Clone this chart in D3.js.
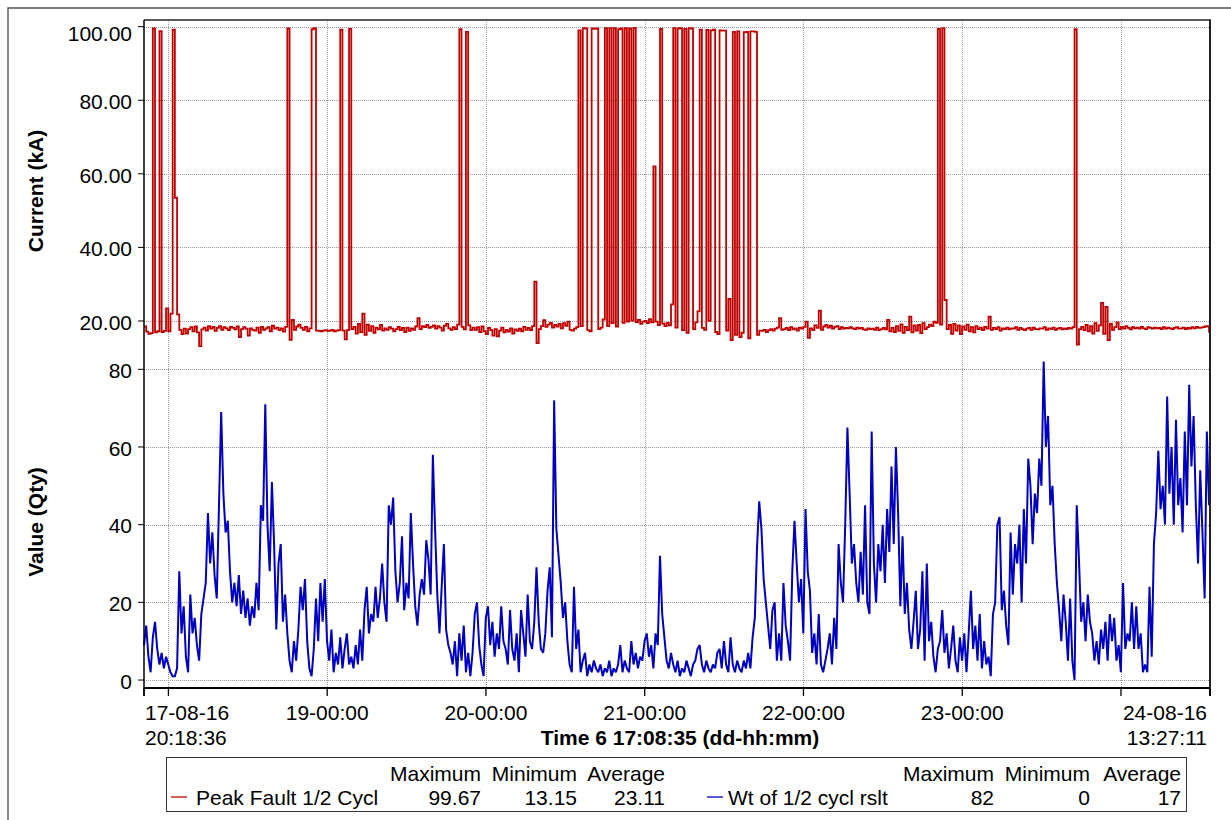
<!DOCTYPE html>
<html>
<head>
<meta charset="utf-8">
<script src="https://cdn.jsdelivr.net/npm/d3@7"></script>
<style>
  html, body { margin: 0; padding: 0; background: #fff; }
  svg { display: block; }
  text { font-family: "Liberation Sans", Arial, sans-serif; fill: #000; }
</style>
</head>
<body>
<svg id="chart" width="1231" height="820"></svg>
<script>
// Logged trend: recording window and sample interval
const startTime = "2016-08-17 20:18:36";
const endTime = "2016-08-24 13:27:11";
const stepMinutes = 20;

// Peak Fault 1/2 Cycl (kA), one value per interval
const peakFault = [
  18.5, 17.1, 16.5, 16.7, 99.5, 16.9, 17.2, 98.8, 17.0, 17.3,
  23.4, 17.2, 22.0, 99.2, 53.5, 21.8, 17.6, 16.4, 17.9, 16.6,
  17.8, 18.3, 17.2, 18.5, 16.9, 13.15, 17.7, 18.2, 17.4, 18.6,
  17.9, 18.4, 17.3, 18.1, 18.6, 17.6, 18.3, 18.0, 17.5, 18.4,
  18.1, 17.7, 18.5, 15.6, 17.8, 18.3, 17.9, 16.0, 18.0, 17.6,
  17.4, 18.2, 16.8, 18.4, 17.6, 18.0, 18.3, 17.2, 18.7, 17.9,
  18.2, 17.5, 18.0, 17.1, 18.4, 99.5, 14.9, 20.3, 17.6, 18.5,
  19.0, 18.1, 17.6, 18.4, 17.2, 18.0, 99.3, 99.6, 17.4, 17.3,
  17.2, 17.4, 17.5, 17.3, 17.4, 17.6, 17.2, 17.4, 17.5, 99.2,
  17.4, 15.0, 17.5, 99.4, 17.8, 18.4, 16.6, 19.2, 17.0, 22.0,
  16.2, 19.0, 17.3, 18.6, 16.8, 18.2, 17.7, 18.9, 17.4, 18.0,
  17.6, 18.3, 17.9, 17.2, 17.8, 18.4, 17.5, 18.1, 17.0, 18.2,
  17.3, 18.0, 17.6, 18.5, 20.8, 17.8, 18.6, 18.3, 18.9, 18.1,
  18.4, 18.8, 17.9, 18.6, 18.2, 17.4, 18.7, 19.2, 18.0, 17.6,
  18.3, 17.8, 19.0, 99.3, 18.4, 17.7, 98.6, 18.8, 17.5, 18.2,
  17.6, 18.3, 17.0, 18.5, 17.2, 16.4, 18.1, 17.5, 16.0, 17.8,
  15.8, 17.4, 18.2, 16.9, 17.6, 17.1, 18.0, 16.6, 17.7, 17.3,
  17.9, 17.2, 18.4, 17.6, 18.1, 17.5, 18.6, 30.7, 14.0, 17.8,
  18.6, 20.2, 18.4, 19.0, 19.5, 18.2, 18.9, 18.5, 19.2, 18.0,
  19.4, 18.7, 19.8, 17.6, 17.4, 17.9, 18.3, 99.0, 18.6, 99.6,
  99.5, 17.5, 17.2, 99.5, 99.4, 99.5, 17.8, 18.2, 20.4, 99.6,
  18.6, 99.6, 19.4, 99.6, 18.5, 99.3, 99.5, 19.5, 99.6, 19.8,
  99.5, 20.1, 99.67, 19.7, 20.3, 19.2, 19.8, 20.0, 19.4, 20.5,
  19.6, 62.0, 19.8, 18.9, 99.4, 19.3, 18.6, 19.5, 18.8, 24.5,
  99.6, 18.2, 99.5, 99.6, 17.5, 99.4, 16.8, 99.6, 99.5, 17.8,
  19.6, 22.6, 99.2, 18.1, 17.6, 99.1, 20.0, 99.0, 99.2, 17.0,
  16.4, 99.0, 98.9, 98.9, 17.4, 26.0, 14.8, 98.6, 16.2, 98.7,
  15.6, 16.8, 98.5, 98.6, 15.3, 98.7, 98.7, 98.6, 16.2, 17.4,
  17.3, 17.6, 17.0, 17.5, 17.8, 17.4, 17.9, 18.2, 20.8, 17.6,
  17.8, 18.1, 17.5, 18.3, 17.7, 18.0, 17.4, 18.2, 17.9, 18.4,
  19.8, 15.4, 18.0, 17.5, 18.8, 18.1, 22.8, 17.6, 18.5, 18.9,
  18.2, 18.7, 17.9, 18.4, 18.6, 17.8, 18.3, 17.9, 18.1, 18.0,
  18.3, 18.0, 17.8, 18.2, 17.9, 18.1, 17.7, 17.6, 18.0, 17.8,
  17.9, 17.6, 18.2, 17.5, 17.8, 18.1, 17.7, 20.3, 17.2, 18.1,
  17.0, 18.6, 17.3, 19.1, 16.8, 18.4, 17.5, 21.2, 16.9, 18.8,
  17.4, 18.9, 16.7, 19.4, 17.8, 18.3, 19.0, 18.6, 19.8, 19.5,
  99.4, 19.0, 99.6, 25.7, 17.8, 18.9, 16.5, 19.2, 17.4, 18.8,
  16.4, 18.5, 17.6, 19.0, 17.2, 18.3, 16.9, 18.6, 17.8, 18.2,
  17.5, 18.4, 17.9, 21.2, 17.6, 18.1, 17.8, 18.3, 17.4, 18.0,
  17.8, 18.2, 17.7, 18.0, 17.9, 18.3, 17.6, 18.1, 17.8, 17.5,
  17.9, 18.1, 17.6, 18.2, 17.8, 17.7, 18.0, 17.9, 18.3, 17.6,
  18.0, 17.8, 18.2, 17.6, 17.9, 18.1, 17.7, 18.0, 17.8, 18.1,
  17.9, 18.3, 99.3, 13.6, 17.8, 18.4, 17.5, 18.9, 17.2, 18.6,
  16.6, 19.4, 17.3, 18.8, 24.9, 16.5, 23.8, 14.8, 19.2, 17.6,
  18.3, 19.6, 17.8, 18.4, 17.9, 18.6, 18.1, 17.7, 18.3, 18.0,
  18.2, 17.9, 18.4, 18.0, 17.8, 18.3, 18.1, 17.9, 18.2, 18.0,
  18.1, 17.8, 18.3, 17.9, 18.2, 18.0, 17.8, 18.1, 18.3, 17.9,
  18.0, 18.2, 17.8, 18.1, 17.9, 18.3, 18.0, 18.4, 18.1, 18.2,
  18.3, 18.5, 18.6, 16.8
];

// Wt of 1/2 cycl rslt (Qty), one value per interval
const weightQty = [
  9, 14, 6, 2, 11, 15, 8, 4, 7, 3,
  6, 4, 2, 1, 1, 3, 28, 12, 19, 6,
  2, 22, 12, 16, 9, 5, 17, 21, 25, 43,
  30, 38, 27, 21, 45, 69, 48, 38, 41, 28,
  20, 25, 19, 27, 17, 23, 16, 21, 14, 19,
  16, 25, 18, 45, 41, 71, 40, 28, 51, 35,
  13, 30, 35, 15, 22, 12, 5, 2, 10, 5,
  13, 24, 18, 26, 10, 3, 1, 8, 21, 10,
  25, 15, 26, 10, 5, 13, 2, 7, 4, 11,
  3, 8, 12, 4, 6, 3, 9, 4, 13, 5,
  18, 24, 12, 17, 15, 24, 16, 21, 30, 20,
  15, 45, 40, 47, 28, 20, 25, 37, 18, 25,
  21, 43, 30, 19, 14, 22, 26, 22, 36, 31,
  22, 58, 39, 22, 12, 24, 35, 13, 9, 7,
  4, 10, 1, 12, 5, 14, 2, 7, 1, 7,
  17, 20, 9, 4, 1, 16, 19, 9, 15, 6,
  12, 8, 19, 10, 8, 4, 18, 8, 5, 12,
  2, 18, 12, 6, 22, 10, 8, 15, 29, 15,
  8, 7, 12, 23, 29, 11, 72, 39, 32, 25,
  16, 20, 10, 4, 2, 24, 8, 13, 2, 5,
  7, 1, 4, 2, 5, 3, 2, 4, 1, 3,
  2, 5, 1, 3, 2, 4, 9, 2, 5, 3,
  2, 10, 4, 7, 3, 6, 5, 10, 12, 6,
  9, 3, 12, 9, 32, 17, 11, 5, 3, 7,
  4, 2, 5, 1, 3, 2, 5, 3, 1, 4,
  5, 8, 9, 4, 2, 5, 3, 2, 4, 3,
  7, 8, 3, 10, 4, 2, 11, 4, 2, 5,
  3, 2, 5, 3, 7, 3, 11, 16, 34, 46,
  39, 26, 20, 14, 8, 18, 20, 5, 12, 5,
  25, 14, 10, 5, 28, 41, 30, 20, 26, 12,
  44, 28, 23, 7, 12, 4, 17, 4, 2, 5,
  8, 12, 4, 16, 8, 35, 25, 20, 40, 65,
  48, 30, 35, 25, 20, 33, 22, 45, 20, 17,
  64, 30, 20, 35, 28, 40, 25, 44, 33, 55,
  35, 60, 43, 19, 37, 17, 25, 13, 8, 15,
  23, 8, 13, 28, 5, 30, 10, 15, 6, 2,
  8, 10, 18, 7, 12, 3, 8, 14, 5, 2,
  11, 5, 12, 2, 12, 23, 8, 14, 5, 17,
  3, 10, 4, 6, 1, 17, 20, 40, 42, 18,
  23, 14, 9, 38, 22, 35, 30, 40, 20, 44,
  30, 57, 50, 35, 48, 43, 57, 50, 82, 60,
  68, 45, 50, 35, 25, 18, 10, 22, 15, 5,
  21, 5, 0, 45, 31, 15, 20, 10, 22, 15,
  12, 5, 10, 4, 13, 8, 15, 5, 17, 10,
  16, 5, 9, 2, 25, 8, 12, 10, 20, 8,
  19, 8, 12, 2, 4, 2, 24, 6, 35, 43,
  59, 44, 50, 40, 73, 48, 60, 40, 67, 45,
  52, 38, 64, 45, 76, 55, 68, 45, 30, 54,
  38, 21, 64, 45
];

// Axis ticks and labels
const currentTicks = [20, 40, 60, 80, 100];
const qtyTicks = [0, 20, 40, 60, 80];
const labeledDays = ["2016-08-19 00:00:00", "2016-08-20 00:00:00", "2016-08-21 00:00:00",
                     "2016-08-22 00:00:00", "2016-08-23 00:00:00"];
const startLabel = ["17-08-16", "20:18:36"];
const endLabel = ["24-08-16", "13:27:11"];
const timeTitle = "Time 6 17:08:35 (dd-hh:mm)";
const currentTitle = "Current (kA)";
const qtyTitle = "Value (Qty)";

// Legend contents
const seriesNames = ["Peak Fault 1/2 Cycl", "Wt of 1/2 cycl rslt"];
const statHeaders = ["Maximum", "Minimum", "Average"];
const peakFaultStats = ["99.67", "13.15", "23.11"];
const weightQtyStats = ["82", "0", "17"];

// ---- drawing ----
const RED = "#c00000", BLUE = "#0000c0", GRID = "#9a9a9a";
const svg = d3.select("#chart");
const parse = d3.timeParse("%Y-%m-%d %H:%M:%S");
const t0 = parse(startTime), t1 = parse(endTime);

const plot = { left: 144, right: 1210, top: 20, bottom: 688 };

const x = d3.scaleTime().domain([t0, t1]).range([plot.left, plot.right]);
const yCur = d3.scaleLinear().domain([12, 102]).range([350.4, 19.3]);
const yQty = d3.scaleLinear().domain([-2, 85]).range([687.8, 349.9]);

const times = peakFault.map((_, i) => d3.timeMinute.offset(t0, i * stepMinutes));
const dayTicks = d3.timeDay.range(d3.timeDay.ceil(t0), t1);

// outer frame
svg.append("path")
  .attr("d", "M8,820V8H1231")
  .attr("fill", "none").attr("stroke", "#555").attr("stroke-width", 1.4);

// grid
const grid = svg.append("g").attr("stroke", GRID).attr("stroke-width", 1)
  .attr("stroke-dasharray", "1,1").attr("shape-rendering", "crispEdges");
grid.selectAll(".vg").data(dayTicks).join("line")
  .attr("x1", d => Math.round(x(d)) + 0.5).attr("x2", d => Math.round(x(d)) + 0.5)
  .attr("y1", plot.top).attr("y2", plot.bottom);
grid.selectAll(".hc").data(currentTicks).join("line")
  .attr("x1", plot.left).attr("x2", plot.right)
  .attr("y1", d => Math.round(yCur(d)) + 0.5).attr("y2", d => Math.round(yCur(d)) + 0.5);
grid.selectAll(".hq").data(qtyTicks).join("line")
  .attr("x1", plot.left).attr("x2", plot.right)
  .attr("y1", d => Math.round(yQty(d)) + 0.5).attr("y2", d => Math.round(yQty(d)) + 0.5);

// series lines: the current trace holds each sample, the quantity trace joins them
const curLine = d3.line()
  .x((d, i) => x(times[i])).y(d => yCur(d)).curve(d3.curveStepAfter);
const qtyLine = d3.line()
  .x((d, i) => x(times[i])).y(d => yQty(d));

svg.append("path").datum(peakFault).attr("d", curLine)
  .attr("fill", "none").attr("stroke", RED).attr("stroke-width", 1.8)
  .attr("stroke-linejoin", "miter");
svg.append("path").datum(weightQty).attr("d", qtyLine)
  .attr("fill", "none").attr("stroke", BLUE).attr("stroke-width", 2)
  .attr("stroke-linejoin", "miter").attr("stroke-miterlimit", 2);

// plot border and axes
svg.append("line").attr("x1", plot.left).attr("x2", plot.right + 1)
  .attr("y1", plot.top).attr("y2", plot.top).attr("stroke", "#222").attr("stroke-width", 1.6);
svg.append("line").attr("x1", plot.right).attr("x2", plot.right)
  .attr("y1", plot.top).attr("y2", plot.bottom + 8).attr("stroke", "#222").attr("stroke-width", 2);
svg.append("line").attr("x1", plot.left).attr("x2", plot.left)
  .attr("y1", plot.top).attr("y2", plot.bottom + 8).attr("stroke", "#000").attr("stroke-width", 1.5);
svg.append("line").attr("x1", plot.left).attr("x2", plot.right)
  .attr("y1", plot.bottom).attr("y2", plot.bottom).attr("stroke", "#000").attr("stroke-width", 1.8);

// y ticks and labels
const fmt2 = d3.format(".2f");
const yAxisG = svg.append("g");
yAxisG.selectAll(".tc").data(currentTicks).join("line")
  .attr("x1", plot.left - 6).attr("x2", plot.left)
  .attr("y1", d => yCur(d)).attr("y2", d => yCur(d)).attr("stroke", "#000");
yAxisG.selectAll(".lc").data(currentTicks).join("text")
  .attr("x", 132).attr("y", d => Math.max(yCur(d), 32) + 1.5)
  .attr("dy", "0.36em").attr("text-anchor", "end").attr("font-size", 21)
  .text(d => fmt2(d));
yAxisG.selectAll(".tq").data(qtyTicks).join("line")
  .attr("x1", plot.left - 6).attr("x2", plot.left)
  .attr("y1", d => yQty(d)).attr("y2", d => yQty(d)).attr("stroke", "#000");
yAxisG.selectAll(".lq").data(qtyTicks).join("text")
  .attr("x", 132).attr("y", d => yQty(d) + 1)
  .attr("dy", "0.36em").attr("text-anchor", "end").attr("font-size", 21)
  .text(d => d);

// axis titles
svg.append("text").attr("transform", "translate(43,191) rotate(-90)")
  .attr("text-anchor", "middle").attr("font-size", 21).attr("font-weight", "bold")
  .text(currentTitle);
svg.append("text").attr("transform", "translate(43,522) rotate(-90)")
  .attr("text-anchor", "middle").attr("font-size", 21).attr("font-weight", "bold")
  .text(qtyTitle);

// x ticks
const xTickDates = [t0, ...dayTicks, t1];
svg.append("g").selectAll("line").data(xTickDates).join("line")
  .attr("x1", d => x(d)).attr("x2", d => x(d))
  .attr("y1", plot.bottom).attr("y2", plot.bottom + 8)
  .attr("stroke", "#000").attr("stroke-width", 1.3);

const dayFmt = d3.timeFormat("%d-%H:%M");
svg.append("g").selectAll("text").data(labeledDays.map(parse)).join("text")
  .attr("x", d => x(d)).attr("y", 720).attr("text-anchor", "middle")
  .attr("font-size", 21).text(d => dayFmt(d));

svg.append("g").selectAll("text").data(startLabel).join("text")
  .attr("x", 145).attr("y", (d, i) => 720 + i * 25).attr("font-size", 21).text(d => d);
svg.append("g").selectAll("text").data(endLabel).join("text")
  .attr("x", 1207).attr("y", (d, i) => 720 + i * 25).attr("text-anchor", "end")
  .attr("font-size", 21).text(d => d);
svg.append("text").attr("x", (plot.left + plot.right) / 2 + 3).attr("y", 745)
  .attr("text-anchor", "middle").attr("font-size", 21).attr("font-weight", "bold")
  .text(timeTitle);

// legend
const lg = svg.append("g");
lg.append("rect").attr("x", 166.5).attr("y", 757.5).attr("width", 1020).attr("height", 54)
  .attr("fill", "#fff").attr("stroke", "#333").attr("stroke-width", 1);
const legendRows = [
  { name: seriesNames[0], color: RED, stats: peakFaultStats, sx: 171, lx: 196, cols: [481, 577, 665] },
  { name: seriesNames[1], color: BLUE, stats: weightQtyStats, sx: 707, lx: 728, cols: [994, 1090, 1181] }
];
legendRows.forEach(r => {
  lg.append("line").attr("x1", r.sx).attr("x2", r.sx + 16).attr("y1", 797).attr("y2", 797)
    .attr("stroke", r.color).attr("stroke-width", 1.3);
  lg.append("text").attr("x", r.lx).attr("y", 805).attr("font-size", 21).text(r.name);
  lg.selectAll(null).data(statHeaders).join("text")
    .attr("x", (d, i) => r.cols[i]).attr("y", 781).attr("text-anchor", "end")
    .attr("font-size", 21).text(d => d);
  lg.selectAll(null).data(r.stats).join("text")
    .attr("x", (d, i) => r.cols[i]).attr("y", 805).attr("text-anchor", "end")
    .attr("font-size", 21).text(d => d);
});
</script>
</body>
</html>
